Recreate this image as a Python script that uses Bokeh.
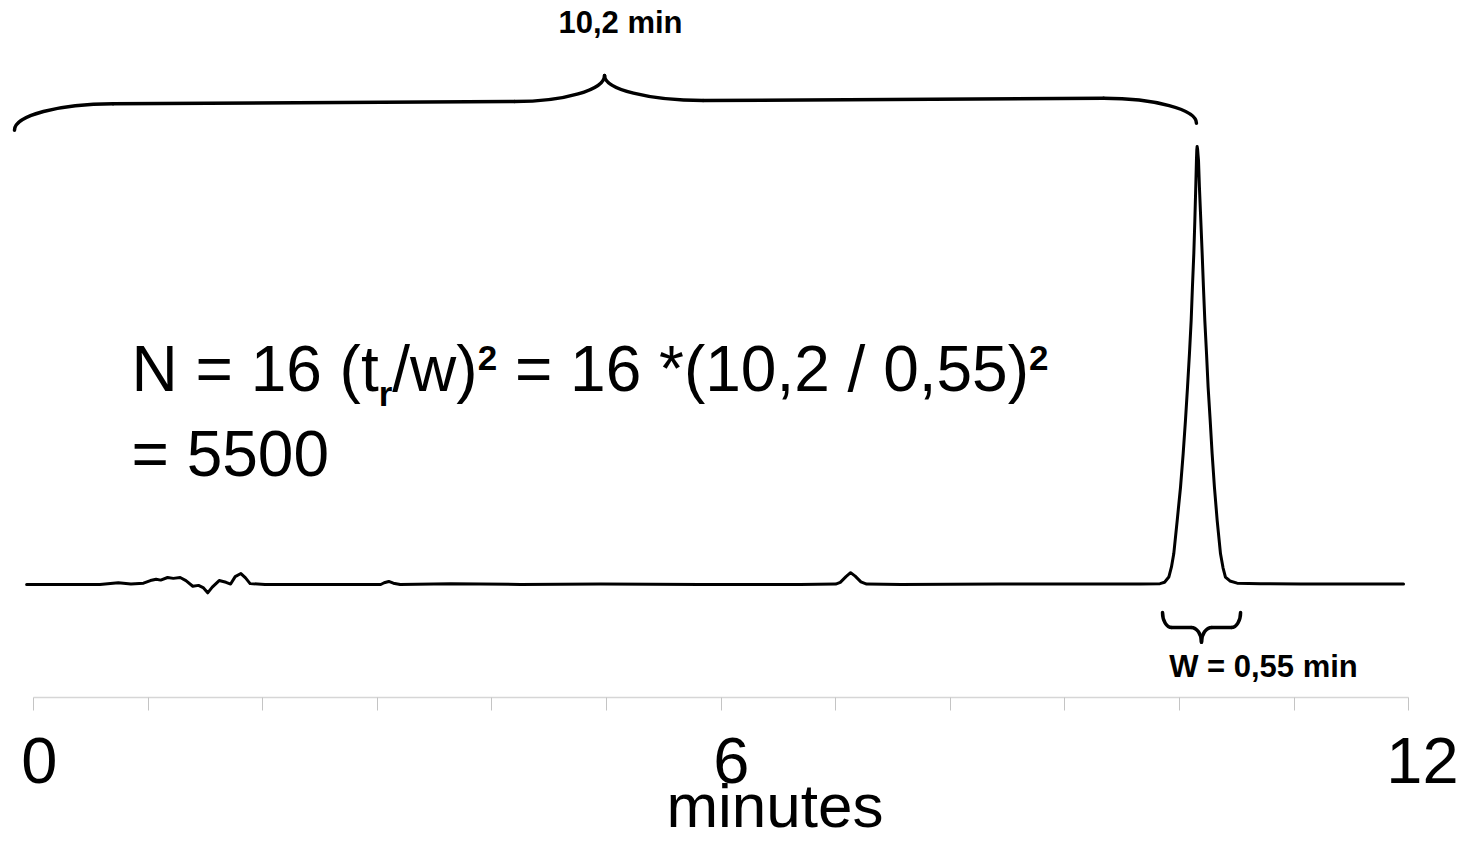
from bokeh.plotting import figure
from bokeh.models import Range1d, FixedTicker, Label, LinearAxis
from bokeh.embed import file_html
from bokeh.resources import INLINE

# ---------------- data ----------------
time_min = [-0.06, 0.58, 0.74, 0.85, 0.96, 1.02, 1.07, 1.11, 1.17, 1.22,
            1.28, 1.33, 1.39, 1.44, 1.48, 1.52, 1.56, 1.62, 1.68, 1.72,
            1.76, 1.81, 1.85, 1.89, 2.02, 3.03, 3.06, 3.10, 3.14, 3.20,
            3.64, 4.25, 4.95, 5.82, 6.69, 7.00, 7.04, 7.09, 7.13, 7.17,
            7.22, 7.27, 7.57, 8.44, 9.31, 9.66, 9.83, 9.87, 9.907, 9.93,
            9.950, 9.980, 10.009, 10.032, 10.052, 10.070, 10.087, 10.102, 10.113, 10.125,
            10.134, 10.142, 10.148, 10.151, 10.154, 10.158, 10.162, 10.166, 10.174, 10.186,
            10.198, 10.209, 10.221, 10.236, 10.250, 10.268, 10.285, 10.305, 10.329, 10.358,
            10.38, 10.401, 10.44, 10.503, 10.707, 11.06, 11.955]
signal = [0, 0, 0.4, 0.1, 0.3, 0.9, 1.2, 1.0, 1.6, 1.4,
          1.6, 0.9, -0.4, -0.2, -0.7, -1.9, -0.6, 0.9, 0.5, 0.1,
          1.8, 2.5, 1.5, 0.2, 0, 0, 0.4, 0.7, 0.3, 0,
          0.2, 0, 0.1, 0, 0, 0.1, 0.5, 1.8, 2.7, 1.9,
          0.6, 0.1, 0, 0.1, 0.1, 0.1, 0.2, 0.5, 1.7, 4.0,
          7.0, 14.6, 22.2, 29.8, 37.4, 45.0, 52.7, 60.3, 67.9, 75.5,
          83.1, 90.7, 96.8, 99.2, 100.0, 99.4, 98.0, 96.8, 90.7, 83.1,
          75.5, 67.9, 60.3, 52.7, 45.0, 37.4, 29.8, 22.2, 14.6, 7.0,
          3.8, 1.7, 0.8, 0.3, 0.2, 0.1, 0.1]

x_ticks = list(range(0, 13))
tick_label_text = ["0", "6", "12"]
tick_label_at = [0.05, 6.09, 12.12]      # label centres as drawn in the reference
axis_title = "minutes"
axis_title_at = 6.47
axis_level = -25.8
retention_label = "10,2 min"
width_label = "W = 0,55 min"
formula_line1 = [("N = 16 (t", "normal", "base"), ("r", "bold", "sub"), ("/w)", "normal", "base"),
                 ("2", "bold", "sup"), (" = 16 *(10,2 / 0,55)", "normal", "base"), ("2", "bold", "sup")]
formula_line2 = "= 5500"

# ---------------- figure ----------------
FONT = "Liberation Sans"
p = figure(width=1468, height=841, output_backend="svg", toolbar_location=None,
           x_range=Range1d(-0.288, 12.522), y_range=Range1d(-58.66, 133.3),
           x_axis_location=None, y_axis_location=None,
           min_border_left=0, min_border_right=0, min_border_top=0, min_border_bottom=0)
p.outline_line_color = None
p.background_fill_color = "white"
p.border_fill_color = "white"
p.grid.visible = False


def bare_axis(ticks, overrides):
    a = LinearAxis(ticker=FixedTicker(ticks=ticks), fixed_location=axis_level)
    a.major_label_overrides = overrides
    a.axis_line_color = None
    a.major_tick_out = 0
    a.major_tick_in = 0
    a.minor_tick_out = 0
    a.minor_tick_in = 0
    a.major_label_text_font = FONT
    a.major_label_text_color = "black"
    return a


# axis line and the 13 minute ticks
ax = LinearAxis(ticker=FixedTicker(ticks=x_ticks), bounds=(0, 12), fixed_location=axis_level)
ax.major_label_overrides = {t: "" for t in x_ticks}
ax.axis_line_color = "#d6d6d6"
ax.axis_line_width = 1.5
ax.major_tick_in = 0
ax.major_tick_out = 13
ax.major_tick_line_color = "#c4c4c4"
ax.major_tick_line_width = 1
ax.minor_tick_out = 0
ax.minor_tick_in = 0
p.add_layout(ax, "below")

# tick labels 0 / 6 / 12
ax_lab = bare_axis(tick_label_at, dict(zip(tick_label_at, tick_label_text)))
ax_lab.major_label_standoff = 40
ax_lab.major_label_text_font_size = "65px"
p.add_layout(ax_lab, "below")

# axis title
ax_t = bare_axis([axis_title_at], {axis_title_at: axis_title})
ax_t.major_label_standoff = 73
ax_t.major_label_text_font_size = "62px"
p.add_layout(ax_t, "below")

# trace
p.line(time_min, signal, line_color="black", line_width=3, line_join="round", line_cap="round")


# braces
def brace(x0, x1, xc, y_tip0, y_tip1, y_bar0, y_bar1, y_cusp, hook0, hook1, neck0, neck1):
    k = 0.55

    def bar_y(x):
        return y_bar0 + (y_bar1 - y_bar0) * (x - x0) / (x1 - x0)

    a = x0 + hook0; ya = bar_y(a)
    b = xc - neck0; yb = bar_y(b)
    c = xc + neck1; yc = bar_y(c)
    d = x1 - hook1; yd = bar_y(d)
    bz = [
        (x0, y_tip0, a, ya, x0, y_tip0 + k * (ya - y_tip0), a - k * hook0, ya),
        (b, yb, xc, y_cusp, b + k * neck0, yb, xc, y_cusp - k * (y_cusp - yb)),
        (xc, y_cusp, c, yc, xc, y_cusp - k * (y_cusp - yc), c - k * neck1, yc),
        (d, yd, x1, y_tip1, d + k * hook1, yd, x1, y_tip1 + k * (yd - y_tip1)),
    ]
    segs = [(a, ya, b, yb), (c, yc, d, yd)]
    return bz, segs


def draw_brace(bz, segs, lw):
    cols = list(zip(*bz))
    p.bezier(x0=list(cols[0]), y0=list(cols[1]), x1=list(cols[2]), y1=list(cols[3]),
             cx0=list(cols[4]), cy0=list(cols[5]), cx1=list(cols[6]), cy1=list(cols[7]),
             line_color="black", line_width=lw, line_cap="round")
    s = list(zip(*segs))
    p.segment(x0=list(s[0]), y0=list(s[1]), x1=list(s[2]), y1=list(s[3]),
              line_color="black", line_width=lw, line_cap="round")


bz, segs = brace(-0.166, 10.148, 4.983, 103.7, 105.3, 109.6, 111.1, 116.2, 0.86, 0.81, 0.785, 0.86)
draw_brace(bz, segs, 3.5)
bz, segs = brace(9.852, 10.533, 10.192, -6.4, -6.4, -9.8, -9.8, -13.2, 0.08, 0.08, 0.09, 0.09)
draw_brace(bz, segs, 3.5)

# annotation texts
p.add_layout(Label(x=5.122, y=128.2, text=retention_label, text_font=FONT, text_font_style="bold",
                   text_font_size="31px", text_align="center", text_baseline="alphabetic", text_color="black"))
p.add_layout(Label(x=10.733, y=-18.8, text=width_label, text_font=FONT, text_font_style="bold",
                   text_font_size="31px", text_align="center", text_baseline="alphabetic", text_color="black"))

# formula
ARIAL = {" ": 278, "(": 333, ")": 333, "*": 389, ",": 278, "/": 278, "=": 584, "N": 722,
         "t": 278, "w": 722, "r": 333}
ARIAL_B = {"r": 389, "2": 556}
for ch in "0123456789":
    ARIAL[ch] = 556


def text_w(s, bold, size):
    tbl = ARIAL_B if bold else ARIAL
    return sum(tbl.get(ch, ARIAL.get(ch, 556)) for ch in s) * size / 1000.0


x_start = 0.855
y_pos = {"base": 49.2, "sub": 43.7, "sup": 51.7}
offset = 0.0
for txt, style, pos in formula_line1:
    size = 64 if pos == "base" else 35
    bold = style == "bold"
    lead = len(txt) - len(txt.lstrip(" "))
    offset += text_w(txt[:lead], bold, size)
    body = txt[lead:]
    p.add_layout(Label(x=x_start, y=y_pos[pos], x_offset=offset, text=body, text_font=FONT,
                       text_font_style=style, text_font_size=f"{size}px", text_align="left",
                       text_baseline="alphabetic", text_color="black"))
    offset += text_w(body, bold, size)
p.add_layout(Label(x=x_start, y=29.8, text=formula_line2, text_font=FONT, text_font_size="64px",
                   text_align="left", text_baseline="alphabetic", text_color="black"))

open("out.html", "w").write(file_html(p, INLINE))
